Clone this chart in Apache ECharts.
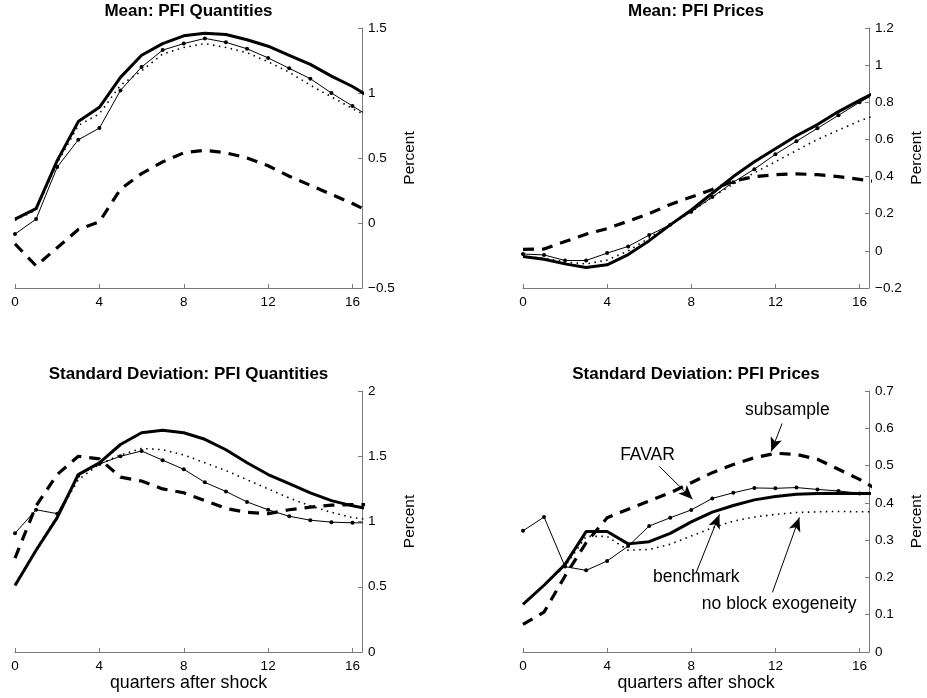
<!DOCTYPE html>
<html>
<head>
<meta charset="utf-8">
<script src="https://cdn.jsdelivr.net/npm/echarts@6/dist/echarts.min.js"></script>
<style>
  html, body { margin: 0; padding: 0; background: #fff; }
  #chart { width: 927px; height: 698px; }
</style>
</head>
<body>
<div id="chart"></div>
<script>
// horizons; the last one sits past the right edge and is clipped, as in the original
const quarters = [0, 1, 2, 3, 4, 5, 6, 7, 8, 9, 10, 11, 12, 13, 14, 15, 16, 17]

// Mean: PFI Quantities
const meanQtyBenchmark = [0.03, 0.11, 0.48, 0.78, 0.89, 1.12, 1.29, 1.38, 1.44, 1.46, 1.45, 1.41, 1.36, 1.29, 1.22, 1.13, 1.05, 0.95]
const meanQtyFavar = [-0.085, 0.03, 0.43, 0.64, 0.73, 1.02, 1.20, 1.33, 1.38, 1.42, 1.39, 1.34, 1.27, 1.19, 1.11, 1.00, 0.90, 0.80]
const meanQtyNoBlock = [0.02, 0.10, 0.46, 0.75, 0.84, 1.06, 1.17, 1.30, 1.35, 1.38, 1.35, 1.31, 1.24, 1.16, 1.06, 0.97, 0.88, 0.80]
const meanQtySubsample = [-0.16, -0.33, -0.19, -0.05, 0.01, 0.26, 0.38, 0.47, 0.54, 0.56, 0.54, 0.50, 0.44, 0.36, 0.29, 0.22, 0.15, 0.07]

// Mean: PFI Prices
const meanPriceBenchmark = [-0.03, -0.045, -0.07, -0.09, -0.075, -0.02, 0.055, 0.14, 0.22, 0.31, 0.40, 0.48, 0.55, 0.62, 0.68, 0.75, 0.81, 0.87]
const meanPriceFavar = [-0.017, -0.022, -0.052, -0.052, -0.012, 0.024, 0.085, 0.14, 0.21, 0.29, 0.37, 0.44, 0.52, 0.59, 0.66, 0.73, 0.80, 0.86]
const meanPriceNoBlock = [-0.03, -0.04, -0.06, -0.07, -0.05, 0.0, 0.07, 0.14, 0.21, 0.29, 0.36, 0.42, 0.48, 0.54, 0.60, 0.65, 0.70, 0.74]
const meanPriceSubsample = [0.008, 0.01, 0.05, 0.09, 0.12, 0.16, 0.20, 0.25, 0.29, 0.33, 0.375, 0.40, 0.41, 0.415, 0.41, 0.40, 0.385, 0.37]

// Standard Deviation: PFI Quantities
const sdQtyBenchmark = [0.51, 0.78, 1.03, 1.36, 1.45, 1.59, 1.68, 1.70, 1.68, 1.63, 1.55, 1.45, 1.36, 1.29, 1.22, 1.16, 1.12, 1.09]
const sdQtyFavar = [0.91, 1.09, 1.06, 1.35, 1.44, 1.50, 1.54, 1.47, 1.40, 1.30, 1.23, 1.15, 1.09, 1.04, 1.01, 0.995, 0.99, 0.99]
const sdQtyNoBlock = [0.52, 0.79, 1.04, 1.32, 1.44, 1.51, 1.56, 1.55, 1.51, 1.45, 1.39, 1.32, 1.25, 1.18, 1.12, 1.07, 1.03, 1.01]
const sdQtySubsample = [0.72, 1.12, 1.36, 1.50, 1.48, 1.34, 1.31, 1.25, 1.22, 1.16, 1.10, 1.07, 1.06, 1.09, 1.11, 1.125, 1.13, 1.13]

// Standard Deviation: PFI Prices
const sdPriceBenchmark = [0.128, 0.179, 0.235, 0.323, 0.323, 0.29, 0.296, 0.318, 0.349, 0.375, 0.393, 0.408, 0.417, 0.423, 0.425, 0.426, 0.425, 0.425]
const sdPriceFavar = [0.325, 0.362, 0.229, 0.219, 0.244, 0.284, 0.338, 0.36, 0.381, 0.412, 0.427, 0.44, 0.439, 0.441, 0.436, 0.432, 0.425, 0.423]
const sdPriceNoBlock = [0.13, 0.18, 0.23, 0.31, 0.31, 0.273, 0.275, 0.289, 0.311, 0.333, 0.351, 0.362, 0.369, 0.374, 0.376, 0.377, 0.376, 0.376]
const sdPriceSubsample = [0.074, 0.107, 0.204, 0.293, 0.36, 0.383, 0.405, 0.427, 0.454, 0.481, 0.503, 0.521, 0.533, 0.530, 0.517, 0.49, 0.463, 0.43]

const xTicks = [0, 4, 8, 12, 16]

const panels = [
  { title: 'Mean: PFI Quantities', min: -0.5, max: 1.5, step: 0.5,
    benchmark: meanQtyBenchmark, favar: meanQtyFavar, noBlock: meanQtyNoBlock, subsample: meanQtySubsample },
  { title: 'Mean: PFI Prices', min: -0.2, max: 1.2, step: 0.2,
    benchmark: meanPriceBenchmark, favar: meanPriceFavar, noBlock: meanPriceNoBlock, subsample: meanPriceSubsample },
  { title: 'Standard Deviation: PFI Quantities', min: 0, max: 2, step: 0.5,
    benchmark: sdQtyBenchmark, favar: sdQtyFavar, noBlock: sdQtyNoBlock, subsample: sdQtySubsample },
  { title: 'Standard Deviation: PFI Prices', min: 0, max: 0.7, step: 0.1,
    benchmark: sdPriceBenchmark, favar: sdPriceFavar, noBlock: sdPriceNoBlock, subsample: sdPriceSubsample }
]

// labels and arrows in the last panel, in data units
const notes = [
  { text: 'subsample', at: [12.57, 0.648], from: [12.32, 0.613], to: [11.8, 0.538] },
  { text: 'FAVAR', at: [5.92, 0.527], from: [6.48, 0.498], to: [8.06, 0.41] },
  { text: 'benchmark', at: [8.24, 0.2], from: [8.24, 0.214], to: [9.34, 0.369] },
  { text: 'no block exogeneity', at: [12.18, 0.128], from: [11.86, 0.16], to: [13.14, 0.361] }
]

const font = 'Liberation Sans, Arial, Helvetica, sans-serif'
const grids = [
  { left: 15, top: 28, width: 347, height: 260 },
  { left: 523, top: 28, width: 346, height: 260 },
  { left: 15, top: 391, width: 347, height: 261 },
  { left: 523, top: 391, width: 346, height: 261 }
]

const pair = (a) => quarters.map((q, i) => [q, a[i]])

const myChart = echarts.init(document.getElementById('chart'), null, { renderer: 'canvas' })

const title = []
const xAxis = []
const yAxis = []
const series = []

panels.forEach((p, k) => {
  const g = grids[k]
  title.push({
    text: p.title,
    left: g.left + g.width / 2,
    top: k < 2 ? 3 : 366,
    textAlign: 'center',
    padding: 0,
    textStyle: { fontFamily: font, fontWeight: 'bold', fontSize: 17, color: '#000' }
  })
  xAxis.push({
    type: 'value',
    gridIndex: k,
    position: 'bottom',
    min: 0,
    max: 16.45,
    interval: 4,
    name: k >= 2 ? 'quarters after shock' : '',
    nameLocation: 'middle',
    nameGap: 21,
    nameTextStyle: { fontFamily: font, fontSize: 17.8, color: '#000' },
    axisLine: { show: true, onZero: false, lineStyle: { color: '#7a7a7a', width: 1 } },
    axisTick: { show: true, inside: true, length: 4, lineStyle: { color: '#7a7a7a' } },
    axisLabel: {
      fontFamily: font, fontSize: 13.5, color: '#000', margin: 7,
      formatter: (v) => (xTicks.indexOf(v) >= 0 ? String(v) : '')
    },
    splitLine: { show: false }
  })
  yAxis.push({
    type: 'value',
    gridIndex: k,
    position: 'right',
    min: p.min,
    max: p.max,
    interval: p.step,
    name: 'Percent',
    nameLocation: 'middle',
    nameGap: 40,
    nameTextStyle: { fontFamily: font, fontSize: 15.5, color: '#000' },
    axisLine: { show: true, onZero: false, lineStyle: { color: '#7a7a7a', width: 1 } },
    axisTick: { show: true, inside: true, length: 4, lineStyle: { color: '#7a7a7a' } },
    axisLabel: {
      fontFamily: font, fontSize: 13.5, color: '#000', margin: 6,
      formatter: (v) => String(Math.round(v * 10) / 10).replace('-', '\u2212')
    },
    splitLine: { show: false }
  })

  const base = { type: 'line', xAxisIndex: k, yAxisIndex: k, clip: true, animation: false, silent: true }
  series.push(Object.assign({}, base, {
    name: 'no block exogeneity',
    data: pair(p.noBlock),
    symbol: 'none',
    lineStyle: { color: '#000', width: 1.6, type: [1.5, 4.5] }
  }))
  series.push(Object.assign({}, base, {
    name: 'subsample',
    data: pair(p.subsample),
    symbol: 'none',
    lineStyle: { color: '#000', width: 3.2, type: [11, 8] }
  }))
  series.push(Object.assign({}, base, {
    name: 'benchmark',
    data: pair(p.benchmark),
    symbol: 'none',
    lineStyle: { color: '#000', width: 3 }
  }))
  const favar = Object.assign({}, base, {
    name: 'FAVAR',
    data: pair(p.favar),
    symbol: 'circle',
    symbolSize: 4,
    showSymbol: true,
    itemStyle: { color: '#000' },
    lineStyle: { color: '#000', width: 1 }
  })
  if (k === 3) {
    favar.markLine = {
      silent: true,
      animation: false,
      symbol: ['none', 'arrow'],
      symbolSize: [9, 14],
      label: { show: false },
      lineStyle: { color: '#000', width: 1, type: 'solid' },
      data: notes.map((n) => [{ coord: n.from }, { coord: n.to }])
    }
    favar.markPoint = {
      silent: true,
      animation: false,
      symbol: 'rect',
      symbolSize: 1,
      itemStyle: { color: 'rgba(0,0,0,0)' },
      label: {
        show: true, position: 'inside', formatter: '{b}',
        fontFamily: font, fontSize: 17.5, color: '#000'
      },
      data: notes.map((n) => ({ name: n.text, coord: n.at }))
    }
  }
  series.push(favar)
})

myChart.setOption({
  backgroundColor: '#fff',
  animation: false,
  title: title,
  grid: grids,
  xAxis: xAxis,
  yAxis: yAxis,
  series: series
})
</script>
</body>
</html>
